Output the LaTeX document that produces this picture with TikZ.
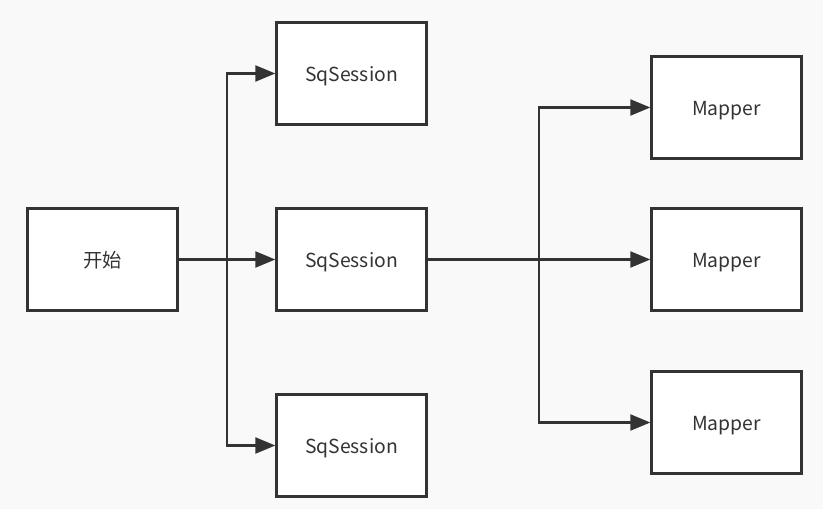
\documentclass[tikz,border=0pt]{standalone}
\usepackage{fontspec}
\setmainfont{Noto Sans CJK SC}
\usetikzlibrary{arrows.meta}

\definecolor{bgcol}{HTML}{F9F9F9}
\definecolor{ink}{HTML}{333333}

\tikzset{
  box/.style={draw=ink, fill=white, line width=2.25pt, minimum width=112pt, minimum height=77pt, inner sep=0pt, text height=13pt, text depth=0.3pt, font=\fontsize{14.5pt}{17pt}\selectfont, text=ink},
  link/.style={draw=ink, line width=1.6pt, -{Triangle[length=15pt, width=12pt]}}
}

\begin{document}
\begin{tikzpicture}[x=0.75pt, y=-0.75pt]

  \fill[bgcol] (0,0) rectangle (823,509);
  \useasboundingbox (0,0) rectangle (823,509);

  \node[box] (start) at (102.5,259.5) {开始};
  \node[box] (s1) at (351.5,73.5) {SqSession};
  \node[box] (s2) at (351.5,259.5) {SqSession};
  \node[box] (s3) at (351.5,445.5) {SqSession};
  \node[box] (m1) at (726.5,107.5) {Mapper};
  \node[box] (m2) at (726.5,259.5) {Mapper};
  \node[box] (m3) at (726.5,422.5) {Mapper};

  \coordinate (lsplit) at (227,259.5);
  \coordinate (rsplit) at (539,259.5);

  \draw[link] (start.east) -- (lsplit) |- (s1.west);
  \draw[link] (start.east) -- (s2.west);
  \draw[link] (start.east) -- (lsplit) |- (s3.west);

  \draw[link] (s2.east) -- (rsplit) |- (m1.west);
  \draw[link] (s2.east) -- (m2.west);
  \draw[link] (s2.east) -- (rsplit) |- (m3.west);

\end{tikzpicture}
\end{document}
